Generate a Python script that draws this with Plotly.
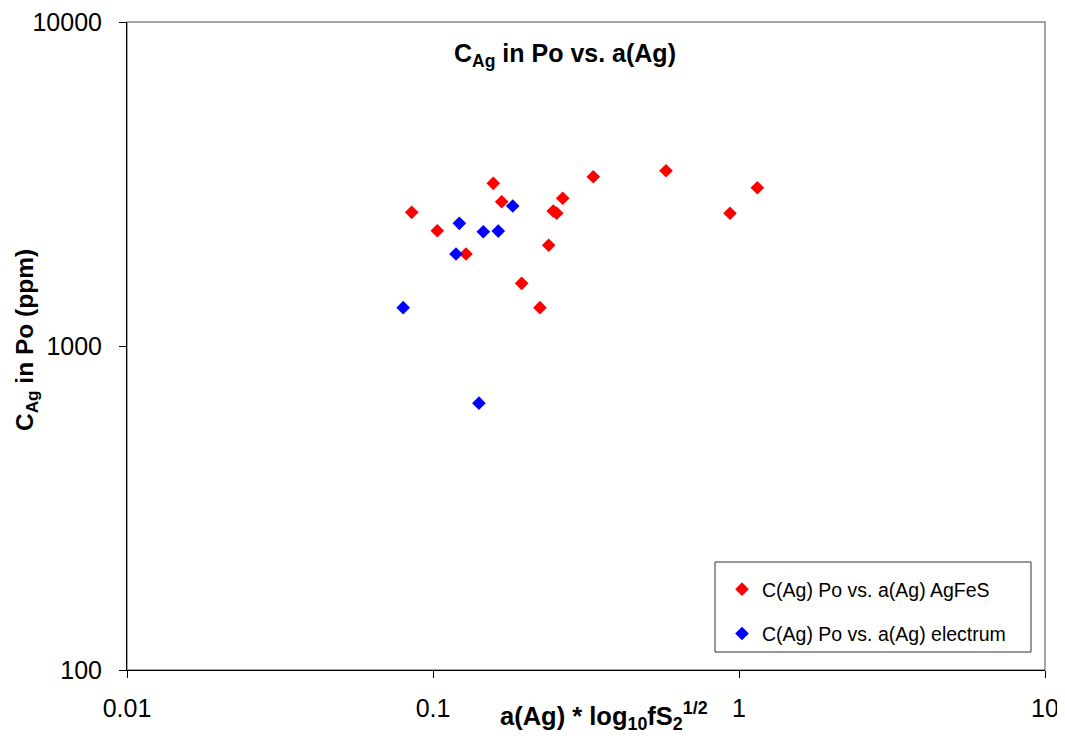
import plotly.graph_objects as go

# Data
agfes_x = [0.0852, 0.1033, 0.1574, 0.1677, 0.1282, 0.2472, 0.2537, 0.2654,
           0.3341, 0.2388, 0.1949, 0.2237, 0.5773, 0.9346, 1.148]
agfes_y = [2586, 2269, 3178, 2788, 1923, 2610, 2568, 2857,
           3330, 2046, 1561, 1313, 3475, 2568, 3080]

electrum_x = [0.1219, 0.1189, 0.1460, 0.1634, 0.1822, 0.0799, 0.1413]
electrum_y = [2391, 1923, 2253, 2263, 2705, 1313, 666]

x_tickvals = [0.01, 0.1, 1, 10]
x_ticktext = ["0.01", "0.1", "1", "10"]
y_tickvals = [100, 1000, 10000]
y_ticktext = ["100", "1000", "10000"]

FONT = "Liberation Sans, Arial, sans-serif"

fig = go.Figure()
fig.add_trace(go.Scatter(
    x=agfes_x, y=agfes_y, mode="markers", name="C(Ag) Po vs. a(Ag) AgFeS",
    legendgroup="a",
    marker=dict(symbol="diamond", size=10.5, color="#FF0000", line=dict(width=0))))
fig.add_trace(go.Scatter(
    x=electrum_x, y=electrum_y, mode="markers", name="C(Ag) Po vs. a(Ag) electrum",
    legendgroup="b",
    marker=dict(symbol="diamond", size=10.5, color="#0000FF", line=dict(width=0))))

# the page body adds an 8px margin, so the figure is placed 8px in from the window edge
OFF = 8
W, H = 1065 - OFF, 740 - OFF
L, T = 127 - OFF, 22 - OFF
R = W - (1045 - OFF)
B = H - (670 - OFF)
pw, ph = W - L - R, H - T - B

def px_x(v):
    return (v - OFF - L) / pw

def px_y(v):
    return (H - B - (v - OFF)) / ph

fig.update_layout(
    width=W, height=H,
    margin=dict(l=L, r=R, t=T, b=B, pad=0, autoexpand=False),
    paper_bgcolor="white", plot_bgcolor="white",
    font=dict(family=FONT, color="black"),
    showlegend=True,
    legend=dict(
        x=px_x(722), y=px_y(570), xanchor="left", yanchor="top",
        bgcolor="rgba(0,0,0,0)", borderwidth=0,
        font=dict(family=FONT, size=19.5, color="black"),
        tracegroupgap=16, itemsizing="trace"),
    xaxis=dict(
        type="log", range=[-2, 1], tickvals=x_tickvals, ticktext=x_ticktext,
        showgrid=False, zeroline=False, showline=True, linecolor="black", linewidth=1,
        ticks="outside", ticklen=7, tickcolor="black", automargin=False,
        ticklabeloverflow="allow",
        tickfont=dict(family=FONT, size=25, color="black"),
        ticklabelstandoff=9),
    yaxis=dict(
        type="log", range=[2, 4], tickvals=y_tickvals, ticktext=y_ticktext,
        showgrid=False, zeroline=False, showline=True, linecolor="black", linewidth=1,
        ticks="outside", ticklen=7, tickcolor="black", automargin=False,
        ticklabeloverflow="allow",
        tickfont=dict(family=FONT, size=25, color="black"),
        ticklabelstandoff=12),
    shapes=[
        dict(type="rect", xref="paper", yref="paper", x0=0, x1=1, y0=0, y1=1,
             layer="below", line=dict(color="#888888", width=1.5),
             fillcolor="rgba(0,0,0,0)"),
        dict(type="rect", xref="paper", yref="paper",
             x0=px_x(715), x1=px_x(1031), y0=px_y(652), y1=px_y(562),
             line=dict(color="#333333", width=1), fillcolor="rgba(0,0,0,0)"),
    ],
    annotations=[
        dict(text="<b>C<sub>Ag</sub> in Po vs. a(Ag)</b>", xref="paper", yref="paper",
             x=px_x(565), y=px_y(55), xanchor="center", yanchor="middle",
             showarrow=False, font=dict(family=FONT, size=25, color="black")),
        dict(text="<b>a(Ag) * log<sub>10</sub>fS<sub>2</sub><sup>1/2</sup></b>",
             xref="paper", yref="paper",
             x=px_x(604), y=px_y(716), xanchor="center", yanchor="middle",
             showarrow=False, font=dict(family=FONT, size=25.5, color="black")),
        dict(text="<b>C<sub>Ag</sub> in Po (ppm)</b>", xref="paper", yref="paper",
             x=px_x(26), y=px_y(340), xanchor="center", yanchor="middle",
             textangle=-90, showarrow=False,
             font=dict(family=FONT, size=24.5, color="black")),
    ],
)

fig.write_html("out.html")
